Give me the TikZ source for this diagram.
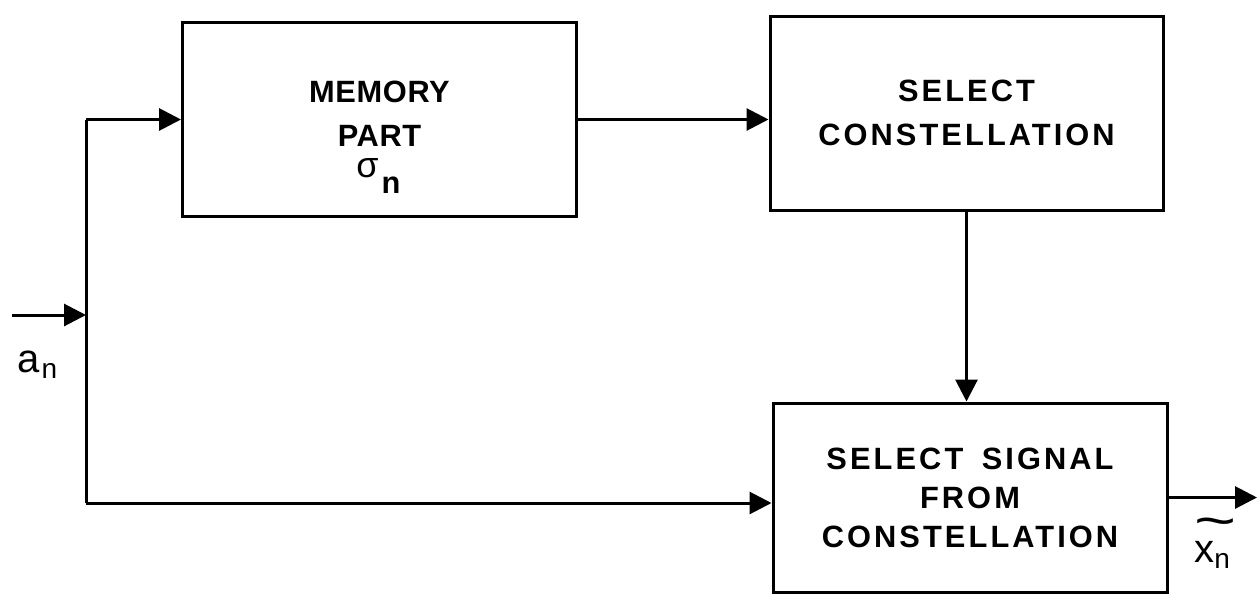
\documentclass[tikz,border=0pt]{standalone}
\usepackage{fontspec}
\setmainfont{Liberation Sans}
\newfontfamily\boxfont[LetterSpace=10]{Liberation Sans}
\newfontfamily\memfont[LetterSpace=2]{Liberation Sans}
\usepackage{graphicx}
\usepackage{tikz}
\usetikzlibrary{arrows.meta,positioning}

\begin{document}
\begin{tikzpicture}[
		x=0.5pt, y=-0.5pt,
		>={Triangle[length=11pt,width=11pt]},
		% Styles
		block/.style={draw, line width=1.5pt, align=center, minimum width=197pt, minimum height=97pt},
		memText/.style={font={\memfont\bfseries\fontsize{15.4}{22}\selectfont}},
		selText/.style={font={\boxfont\bfseries\fontsize{15.4}{22}\selectfont}},
		sigLine/.style={->, line width=1.5pt},
		sigLabel/.style={anchor=base west, inner sep=0pt, font={\fontsize{20}{24}\selectfont}}
	]
	\useasboundingbox (0,0) rectangle (1258,595);

	% --- 1. BLOKKEN ---
	\node[block, memText] (memPart) at (379.5,119.5) {MEMORY\\PART\\[-22pt]\rule[-6pt]{0pt}{6pt}};
	\node[anchor=base west, inner sep=0pt, font={\fontsize{18}{20}\selectfont}] (memSigma) at (356,177)
		{σ\hspace{1.5pt}\raisebox{-8pt}{\bfseries\fontsize{15.4}{18}\selectfont n}};
	\node[block, selText, minimum width=196.5pt] (selConst) at (966.5,113) {SELECT\\CONSTELLATION};
	\node[block, selText, font={\boxfont\bfseries\fontsize{15.4}{19.5}\selectfont}, minimum height=94.5pt]
		(selSignal) at (970,497.5) {SELECT\hspace{0.6em}SIGNAL\\FROM\\CONSTELLATION};

	% --- 2. INGANG EN VERTAKKING ---
	\coordinate (xIn) at (12,315);
	\coordinate (jn) at (86,315);
	\coordinate (botTurn) at (86,503);
	\draw[sigLine] (xIn) -- (jn);
	\draw[line width=1.5pt] (memPart.west -| jn) -- (botTurn);
	\draw[sigLine] (memPart.west -| jn) -- (memPart.west);
	\draw[sigLine] (botTurn) -- (botTurn -| selSignal.west);
	\node[sigLabel] (lblIn) at (17,372) {a\hspace{1pt}\raisebox{-3pt}{\fontsize{14}{14}\selectfont n}};

	% --- 3. VERBINDINGEN TUSSEN DE BLOKKEN ---
	\draw[sigLine] (memPart.east) -- (memPart.east -| selConst.west);
	\draw[sigLine] (selConst.south) -- (selConst.south |- selSignal.north);

	% --- 4. UITGANG ---
	\coordinate (xOut) at (1257,497.5);
	\draw[sigLine] (selSignal.east) -- (xOut);
	\node[sigLabel] (lblOut) at (1194,562)
		{\rlap{\raisebox{12pt}{\scalebox{1.8}[1.3]{\char"7E}}}x\raisebox{-3pt}{\fontsize{14}{14}\selectfont n}};

\end{tikzpicture}
\end{document}
